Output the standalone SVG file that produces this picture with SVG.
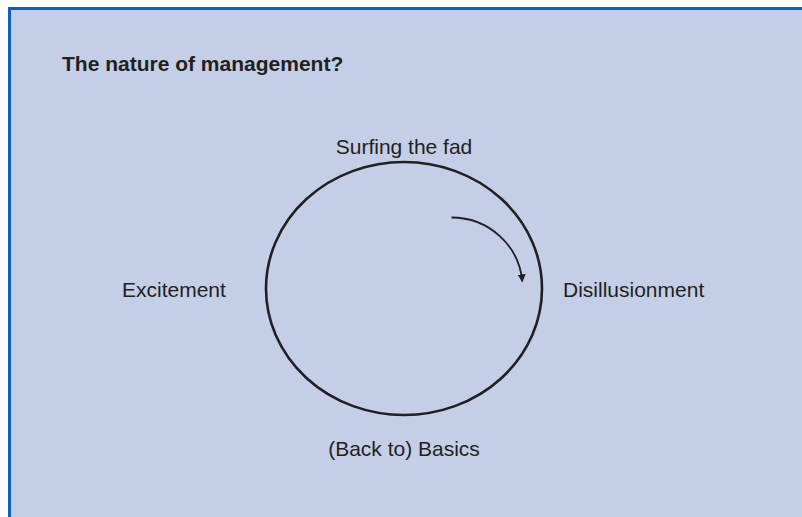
<svg xmlns="http://www.w3.org/2000/svg" width="802" height="517" viewBox="0 0 802 517">
  <style>
    .lbl { font-family: "Liberation Sans", Arial, sans-serif; font-size: 21px; fill: #231f20; }
    .title { font-family: "Liberation Sans", Arial, sans-serif; font-size: 21px; font-weight: bold; fill: #231f20; }
    .line { fill: none; stroke: #231f20; }
  </style>
  <defs>
    <marker id="arrow" viewBox="0 0 10 10" refX="9" refY="5" markerWidth="8" markerHeight="8" markerUnits="userSpaceOnUse" orient="auto">
      <path d="M0,0 L10,5 L0,10 Z" fill="#231f20"/>
    </marker>
  </defs>
  <rect x="0" y="0" width="802" height="517" fill="#ffffff"/>
  <rect id="panel" x="9.5" y="8.5" width="900" height="600" fill="#c4cfe7" stroke="#1160b6" stroke-width="3"/>
  <g id="title">
    <text class="title" x="62" y="70.5">The nature of management?</text>
  </g>
  <g id="cycle">
    <ellipse class="line" cx="404" cy="288.5" rx="138" ry="126.5" stroke-width="2.6"/>
  </g>
  <g id="connectors">
    <path class="line" d="M451.5,217.5 A71,70 0 0 1 522.3,281.5" stroke-width="1.8" marker-end="url(#arrow)"/>
  </g>
  <g id="node-surfing">
    <text class="lbl" x="404" y="153.5" text-anchor="middle">Surfing the fad</text>
  </g>
  <g id="node-excitement">
    <text class="lbl" x="122" y="297">Excitement</text>
  </g>
  <g id="node-disillusionment">
    <text class="lbl" x="563" y="297">Disillusionment</text>
  </g>
  <g id="node-basics">
    <text class="lbl" x="404" y="456" text-anchor="middle">(Back to) Basics</text>
  </g>
</svg>
